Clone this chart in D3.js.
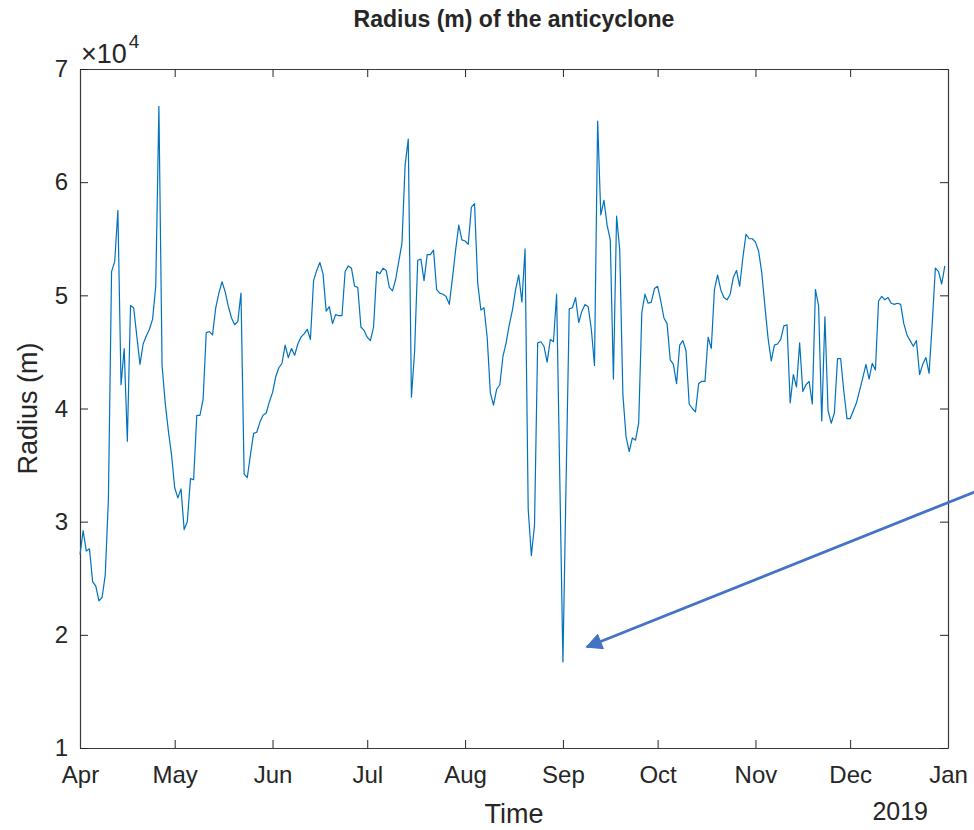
<!DOCTYPE html>
<html>
<head>
<meta charset="utf-8">
<script src="https://cdn.jsdelivr.net/npm/d3@7"></script>
<style>
  body { margin: 0; background: #fff; }
  svg text { font-family: "Liberation Sans", Arial, Helvetica, sans-serif; fill: #262626; }
</style>
</head>
<body>
<div id="chart"></div>
<script>
//-----------------------------DATA------------------------------//
// daily radius (m), one value per day starting 2018-04-01
const startDate = "2018-04-01";
const radius = [
  27100, 29200, 27400, 27600, 24700, 24300, 23000, 23300, 25300, 32000,
  52100, 53000, 57500, 42100, 45300, 37100, 49100, 48900, 46400, 43900,
  45700, 46400, 47000, 47900, 50800, 66700, 43800, 40500, 38000, 35900,
  33000, 32100, 32900, 29300, 30000, 33800, 33700, 39400, 39400, 40800,
  46700, 46800, 46500, 48900, 50200, 51200, 50300, 49000, 48000, 47400,
  47700, 50200, 34200, 33900, 35900, 37800, 37900, 38800, 39400, 39600,
  40600, 41400, 42800, 43600, 44000, 45600, 44500, 45300, 44700, 45700,
  46300, 46600, 47000, 46100, 51300, 52200, 52900, 51900, 48600, 49000,
  47500, 48300, 48200, 48200, 52100, 52600, 52400, 50800, 50700, 47200,
  46900, 46300, 46000, 47200, 52100, 51900, 52400, 52200, 50700, 50400,
  51400, 53000, 54600, 61500, 63800, 41000, 45000, 53100, 53200, 51300,
  53600, 53600, 54000, 50500, 50200, 50100, 49900, 49200, 51500, 54000,
  56200, 54900, 54800, 54500, 57800, 58100, 51100, 48700, 48900, 46300,
  41400, 40300, 41700, 42100, 44600, 45800, 47400, 48700, 50500, 51800,
  49400, 54100, 31100, 27000, 29700, 45800, 45900, 45500, 44100, 46100,
  45900, 50100, 34000, 17600, 33500, 48800, 48900, 49800, 47600, 48600,
  49200, 49000, 47000, 43800, 65400, 57100, 58400, 56200, 54900, 42600,
  57000, 54000, 41200, 37500, 36200, 37400, 37200, 38700, 48500, 50100,
  49300, 49400, 50600, 50800, 49500, 48000, 47500, 44300, 43900, 42200,
  45600, 46000, 45100, 40400, 40000, 39700, 42200, 42400, 42400, 46300,
  45300, 50500, 51800, 50500, 49800, 49600, 50100, 51600, 52200, 50800,
  53300, 55400, 55000, 55000, 54700, 53900, 52000, 49000, 46200, 44200,
  45600, 45700, 46100, 47300, 47400, 40500, 43000, 41900, 45800, 41500,
  42100, 42400, 40400, 50500, 49100, 38900, 48100, 39800, 38700, 39600,
  44400, 44400, 41500, 39100, 39100, 39800, 40500, 41600, 42700, 43900,
  42600, 44000, 43400, 49500, 49900, 49600, 49800, 49300, 49200, 49300,
  49200, 47500, 46500, 46000, 45500, 46000, 43000, 43900, 44500, 43100,
  47500, 52400, 52100, 51000, 52600
];
const xDomain = ["2018-04-01", "2019-01-01"];
const yDomain = [10000, 70000];
const yTicks = [10000, 20000, 30000, 40000, 50000, 60000, 70000];
const yExponent = 4;
const yearLabel = "2019";
const titleText = "Radius (m) of the anticyclone";
const xLabel = "Time";
const yLabel = "Radius (m)";

//-----------------------------SVG-------------------------------//
const width = 974;
const height = 830;
const margin = {top: 69, right: 26, bottom: 82, left: 80};
const innerW = width - margin.left - margin.right;
const innerH = height - margin.top - margin.bottom;
const tick = 8;

const svg = d3.select("#chart").append("svg")
    .attr("width", width)
    .attr("height", height);

const parse = d3.utcParse("%Y-%m-%d");
const t0 = parse(startDate);
const dataset = radius.map(function(v, i) {
    return {date: d3.utcDay.offset(t0, i), value: v};
});

//----------------------------SCALES-----------------------------//
const xScale = d3.scaleUtc()
    .domain(xDomain.map(parse))
    .range([margin.left, margin.left + innerW]);
const yScale = d3.scaleLinear()
    .domain(yDomain)
    .range([margin.top + innerH, margin.top]);

//-----------------------------AXES------------------------------//
const months = d3.utcMonth.range(xScale.domain()[0], d3.utcDay.offset(xScale.domain()[1], 1));

const xaxis = d3.axisBottom(xScale)
    .tickValues(months)
    .tickFormat(d3.utcFormat("%b"))
    .tickSizeInner(-tick).tickSizeOuter(0).tickPadding(18);
const xaxisTop = d3.axisTop(xScale)
    .tickValues(months).tickFormat("")
    .tickSizeInner(-tick).tickSizeOuter(0);
const yaxis = d3.axisLeft(yScale)
    .tickValues(yTicks)
    .tickFormat(function(d) { return d / Math.pow(10, yExponent); })
    .tickSizeInner(-tick).tickSizeOuter(0).tickPadding(12);
const yaxisRight = d3.axisRight(yScale)
    .tickValues(yTicks).tickFormat("")
    .tickSizeInner(-tick).tickSizeOuter(0);

function styleAxis(g) {
    g.select(".domain").attr("stroke", "#3a3a3a").attr("stroke-width", 1.2);
    g.selectAll(".tick line").attr("stroke", "#262626").attr("stroke-width", 1);
    g.selectAll(".tick text").attr("font-size", 24).attr("fill", "#262626");
}

svg.append("g")
    .attr("transform", "translate(0," + (margin.top + innerH) + ")")
    .call(xaxis).call(styleAxis);
svg.append("g")
    .attr("transform", "translate(0," + margin.top + ")")
    .call(xaxisTop).call(styleAxis);
svg.append("g")
    .attr("transform", "translate(" + margin.left + ",0)")
    .call(yaxis).call(styleAxis);
svg.append("g")
    .attr("transform", "translate(" + (margin.left + innerW) + ",0)")
    .call(yaxisRight).call(styleAxis);

// exponent label
const expo = svg.append("text")
    .attr("x", margin.left + 1)
    .attr("y", margin.top - 6)
    .attr("font-size", 27);
expo.append("tspan").text("\u00d710");
expo.append("tspan").attr("dy", -15).attr("dx", 2).attr("font-size", 19).text(yExponent);

// year under last tick
svg.append("text")
    .attr("x", xScale(xScale.domain()[1]) - 20)
    .attr("y", margin.top + innerH + 72)
    .attr("text-anchor", "end")
    .attr("font-size", 25)
    .text(yearLabel);

// title and axis labels
svg.append("text")
    .attr("x", margin.left + innerW / 2)
    .attr("y", 27)
    .attr("text-anchor", "middle")
    .attr("font-size", 23)
    .attr("font-weight", "bold")
    .attr("fill", "#000")
    .text(titleText);

svg.append("text")
    .attr("x", margin.left + innerW / 2)
    .attr("y", height - 7)
    .attr("text-anchor", "middle")
    .attr("font-size", 27)
    .text(xLabel);

svg.append("text")
    .attr("transform", "translate(37," + (margin.top + innerH / 2) + ") rotate(-90)")
    .attr("text-anchor", "middle")
    .attr("font-size", 27)
    .text(yLabel);

//----------------------------LINES------------------------------//
svg.append("path")
    .datum(dataset)
    .attr("fill", "none")
    .attr("stroke", "#0072BD")
    .attr("stroke-width", 1.2)
    .attr("stroke-linejoin", "round")
    .attr("d", d3.line()
        .x(function(d) { return xScale(d.date); })
        .y(function(d) { return yScale(d.value); }));

//---------------------------ARROW-------------------------------//
// annotation pointing at the minimum
const minPt = dataset.reduce(function(a, b) { return b.value < a.value ? b : a; });
const tipX = xScale(minPt.date) + 24;
const tipY = yScale(minPt.value) - 15;
const ang = Math.atan2(-0.40, 1);
const len = 440;
svg.append("defs").append("marker")
    .attr("id", "head")
    .attr("viewBox", "0 0 10 10")
    .attr("refX", 9).attr("refY", 5)
    .attr("markerWidth", 6.5).attr("markerHeight", 6)
    .attr("orient", "auto")
    .append("path")
    .attr("d", "M0,0L10,5L0,10z")
    .attr("fill", "#4472C4");
svg.append("line")
    .attr("x1", tipX + len * Math.cos(ang))
    .attr("y1", tipY + len * Math.sin(ang))
    .attr("x2", tipX)
    .attr("y2", tipY)
    .attr("stroke", "#4472C4")
    .attr("stroke-width", 2.8)
    .attr("marker-end", "url(#head)");
</script>
</body>
</html>
